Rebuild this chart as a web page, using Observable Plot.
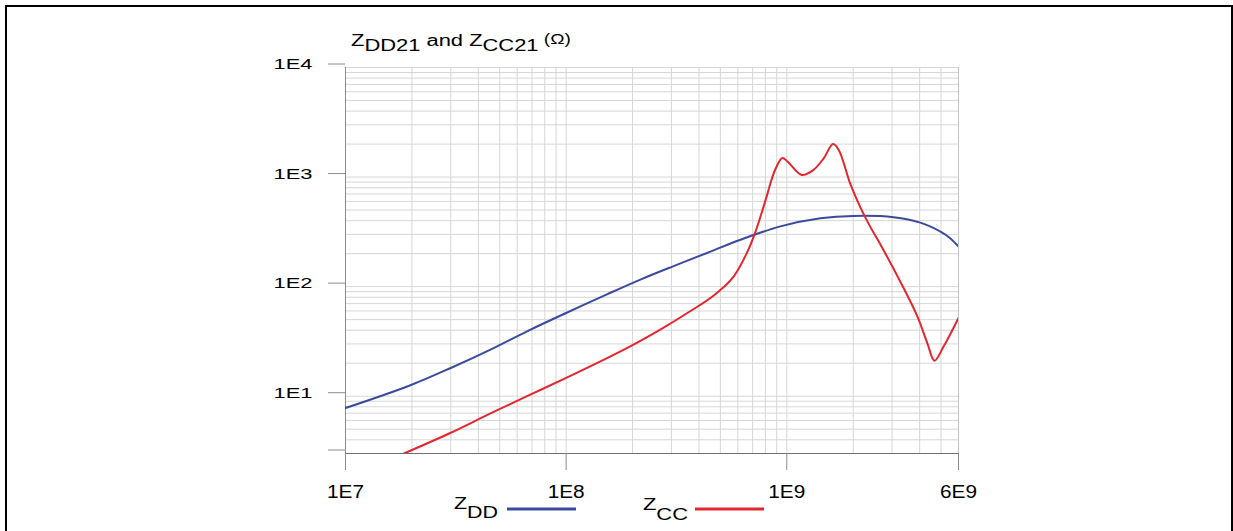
<!DOCTYPE html>
<html>
<head>
<meta charset="utf-8">
<script src="https://cdn.jsdelivr.net/npm/d3@7"></script>
<script src="https://cdn.jsdelivr.net/npm/@observablehq/plot@0.6"></script>
<style>
  html, body { margin: 0; padding: 0; background: #fff; }
  #wrap { position: relative; width: 1233px; height: 531px; overflow: hidden; font-family: "Liberation Sans", Arial, sans-serif; }
  #frame { position: absolute; left: 5px; top: 5px; width: 1228px; height: 540px; border: 2px solid #000; box-sizing: border-box; }
  #chart { position: absolute; left: 0; top: 0; }
  #overlay { position: absolute; left: 0; top: 0; }
</style>
</head>
<body>
<div id="wrap">
  <div id="frame"></div>
  <div id="chart"></div>
  <svg id="overlay" width="1233" height="531" xmlns="http://www.w3.org/2000/svg"></svg>
</div>
<script>
// ---- data ----
const xTicks = [1e7, 1e8, 1e9, 6e9];
const xTickLabels = ["1E7", "1E8", "1E9", "6E9"];
const yTicks = [3, 10, 100, 1000, 10000];
const yTickLabels = ["", "1E1", "1E2", "1E3", "1E4"];

const freqDD = [1.0e7, 1.97e7, 3.0e7, 4.54e7, 6.65e7, 1.0e8, 1.54e8, 2.17e8, 3.07e8, 4.35e8, 6.17e8, 9.36e8, 1.42e9, 2.0e9, 3.05e9, 4.03e9, 4.97e9, 5.5e9, 6.0e9];
const zDD    = [7.8, 12.6, 18.1, 26.6, 39.1, 57.5, 85.5, 116, 154, 203, 268, 355, 420, 442, 430, 384, 318, 277, 232];

const freqCC = [1.84e7, 3.0e7, 4.54e7, 6.65e7, 1.0e8, 1.43e8, 2.02e8, 2.67e8, 3.66e8, 4.65e8, 5.73e8, 6.63e8, 7.21e8, 7.84e8, 8.17e8, 8.52e8, 8.97e8, 9.55e8, 1.01e9, 1.17e9, 1.32e9, 1.47e9, 1.62e9, 1.72e9, 1.94e9, 2.16e9, 2.39e9, 2.66e9, 3.27e9, 3.91e9, 4.34e9, 4.67e9, 5.14e9, 6.0e9];
const zCC    = [3.0, 4.64, 6.96, 10.0, 14.7, 20.8, 29.6, 40.5, 59.9, 82.6, 123, 208, 316, 534, 702, 941, 1237, 1492, 1380, 1045, 1161, 1484, 2001, 1765, 865, 523, 351, 241, 111, 53.2, 30.2, 21.1, 28.5, 51.8];

const seriesNames = ["DD", "CC"];
const seriesColors = ["#3b4a9e", "#e4262e"];

// log grid lines (1..9 per decade)
const mult = [1, 2, 3, 4, 5, 6, 7, 8, 9];
const xGrid = [];
for (const e of [7, 8, 9]) for (const m of mult) { const v = m * 10 ** e; if (v <= 6e9) xGrid.push(v); }
xGrid.push(6e9);
const yGrid = [];
for (const e of [0, 1, 2, 3]) for (const m of mult) { const v = m * 10 ** e; if (v >= 3) yGrid.push(v); }
yGrid.push(1e4);

const dd = freqDD.map((f, i) => ({f, z: zDD[i]}));
const cc = freqCC.map((f, i) => ({f, z: zCC[i]}));
const xLab = xTicks.map((v, i) => ({v, label: xTickLabels[i]}));

function nearestLabel(ticks, labels, d) {
  let best = 0, bd = Infinity;
  ticks.forEach((t, i) => { const dist = Math.abs(Math.log10(t) - Math.log10(d)); if (dist < bd) { bd = dist; best = i; } });
  return labels[best];
}

const chart = Plot.plot({
  width: 1233,
  height: 531,
  marginLeft: 345,
  marginRight: 275,
  marginTop: 67,
  marginBottom: 78,
  x: {type: "log", domain: [1e7, 6e9], label: null},
  y: {type: "log", domain: [3, 1e4], label: null},
  style: {fontFamily: "'Liberation Sans', Arial, sans-serif", background: "transparent", color: "#000", overflow: "visible"},
  marks: [
    Plot.ruleX(xGrid, {stroke: "#d6d6d6", strokeWidth: 1}),
    Plot.ruleY(yGrid, {stroke: "#d6d6d6", strokeWidth: 1}),
    Plot.ruleX([6e9], {stroke: "#c4c4c4"}),
    Plot.ruleX([1e7], {stroke: "#8c8c8c"}),
    Plot.ruleY([3], {stroke: "#707070"}),
    Plot.axisX({ticks: xTicks, tickSize: 17, stroke: "#8c8c8c", label: null, text: null}),
    Plot.text(xLab, {x: "v", text: "label", frameAnchor: "bottom", lineAnchor: "top", dy: 32,
      fontSize: 18, fill: "#000", className: "xlab"}),
    Plot.axisY({ticks: yTicks, tickSize: 17, tickPadding: 16, fontSize: 15.5, dy: -3.5,
      stroke: "#8c8c8c", fill: "#000", label: null,
      tickFormat: d => nearestLabel(yTicks, yTickLabels, d)}),
    Plot.line(dd, {x: "f", y: "z", stroke: seriesColors[0], strokeWidth: 2, curve: "catmull-rom", clip: true}),
    Plot.line(cc, {x: "f", y: "z", stroke: seriesColors[1], strokeWidth: 2, curve: "catmull-rom", clip: true})
  ]
});
document.getElementById("chart").appendChild(chart);

// stretch axis labels horizontally like the reference typesetting
chart.querySelectorAll('g.xlab text, g[aria-label="x-axis tick label"] text').forEach(t => {
  if (t.textContent) { t.setAttribute("textLength", 37); t.setAttribute("lengthAdjust", "spacingAndGlyphs"); }
});
chart.querySelectorAll('g[aria-label="y-axis tick label"] text').forEach(t => {
  if (t.textContent) { t.setAttribute("textLength", 39); t.setAttribute("lengthAdjust", "spacingAndGlyphs"); }
});

// ---- title and legend ----
const ns = "http://www.w3.org/2000/svg";
const ov = document.getElementById("overlay");
function addText(x, y, parts, size, len) {
  const t = document.createElementNS(ns, "text");
  t.setAttribute("x", x); t.setAttribute("y", y);
  t.setAttribute("font-family", "'Liberation Sans', Arial, sans-serif");
  t.setAttribute("font-size", size);
  t.setAttribute("fill", "#000");
  for (const [s, dy, fs] of parts) {
    const sp = document.createElementNS(ns, "tspan");
    sp.textContent = s;
    if (dy) sp.setAttribute("dy", dy);
    if (fs) sp.setAttribute("font-size", fs);
    t.appendChild(sp);
  }
  if (len) { t.setAttribute("textLength", len); t.setAttribute("lengthAdjust", "spacingAndGlyphs"); }
  ov.appendChild(t);
  return t;
}
addText(351, 46, [["Z"], ["DD21", 5], [" and Z", -5], ["CC21", 5], [" (Ω)", -7, 14]], 16, 220);

function addLine(x1, x2, y, color) {
  const l = document.createElementNS(ns, "line");
  l.setAttribute("x1", x1); l.setAttribute("x2", x2);
  l.setAttribute("y1", y); l.setAttribute("y2", y);
  l.setAttribute("stroke", color); l.setAttribute("stroke-width", 3);
  ov.appendChild(l);
}
addText(454, 508.5, [["Z"], [seriesNames[0], 9]], 16, 44);
addLine(507, 576, 509, seriesColors[0]);
addText(643, 509.5, [["Z"], [seriesNames[1], 10]], 16, 45);
addLine(695, 764, 509, seriesColors[1]);
</script>
</body>
</html>
